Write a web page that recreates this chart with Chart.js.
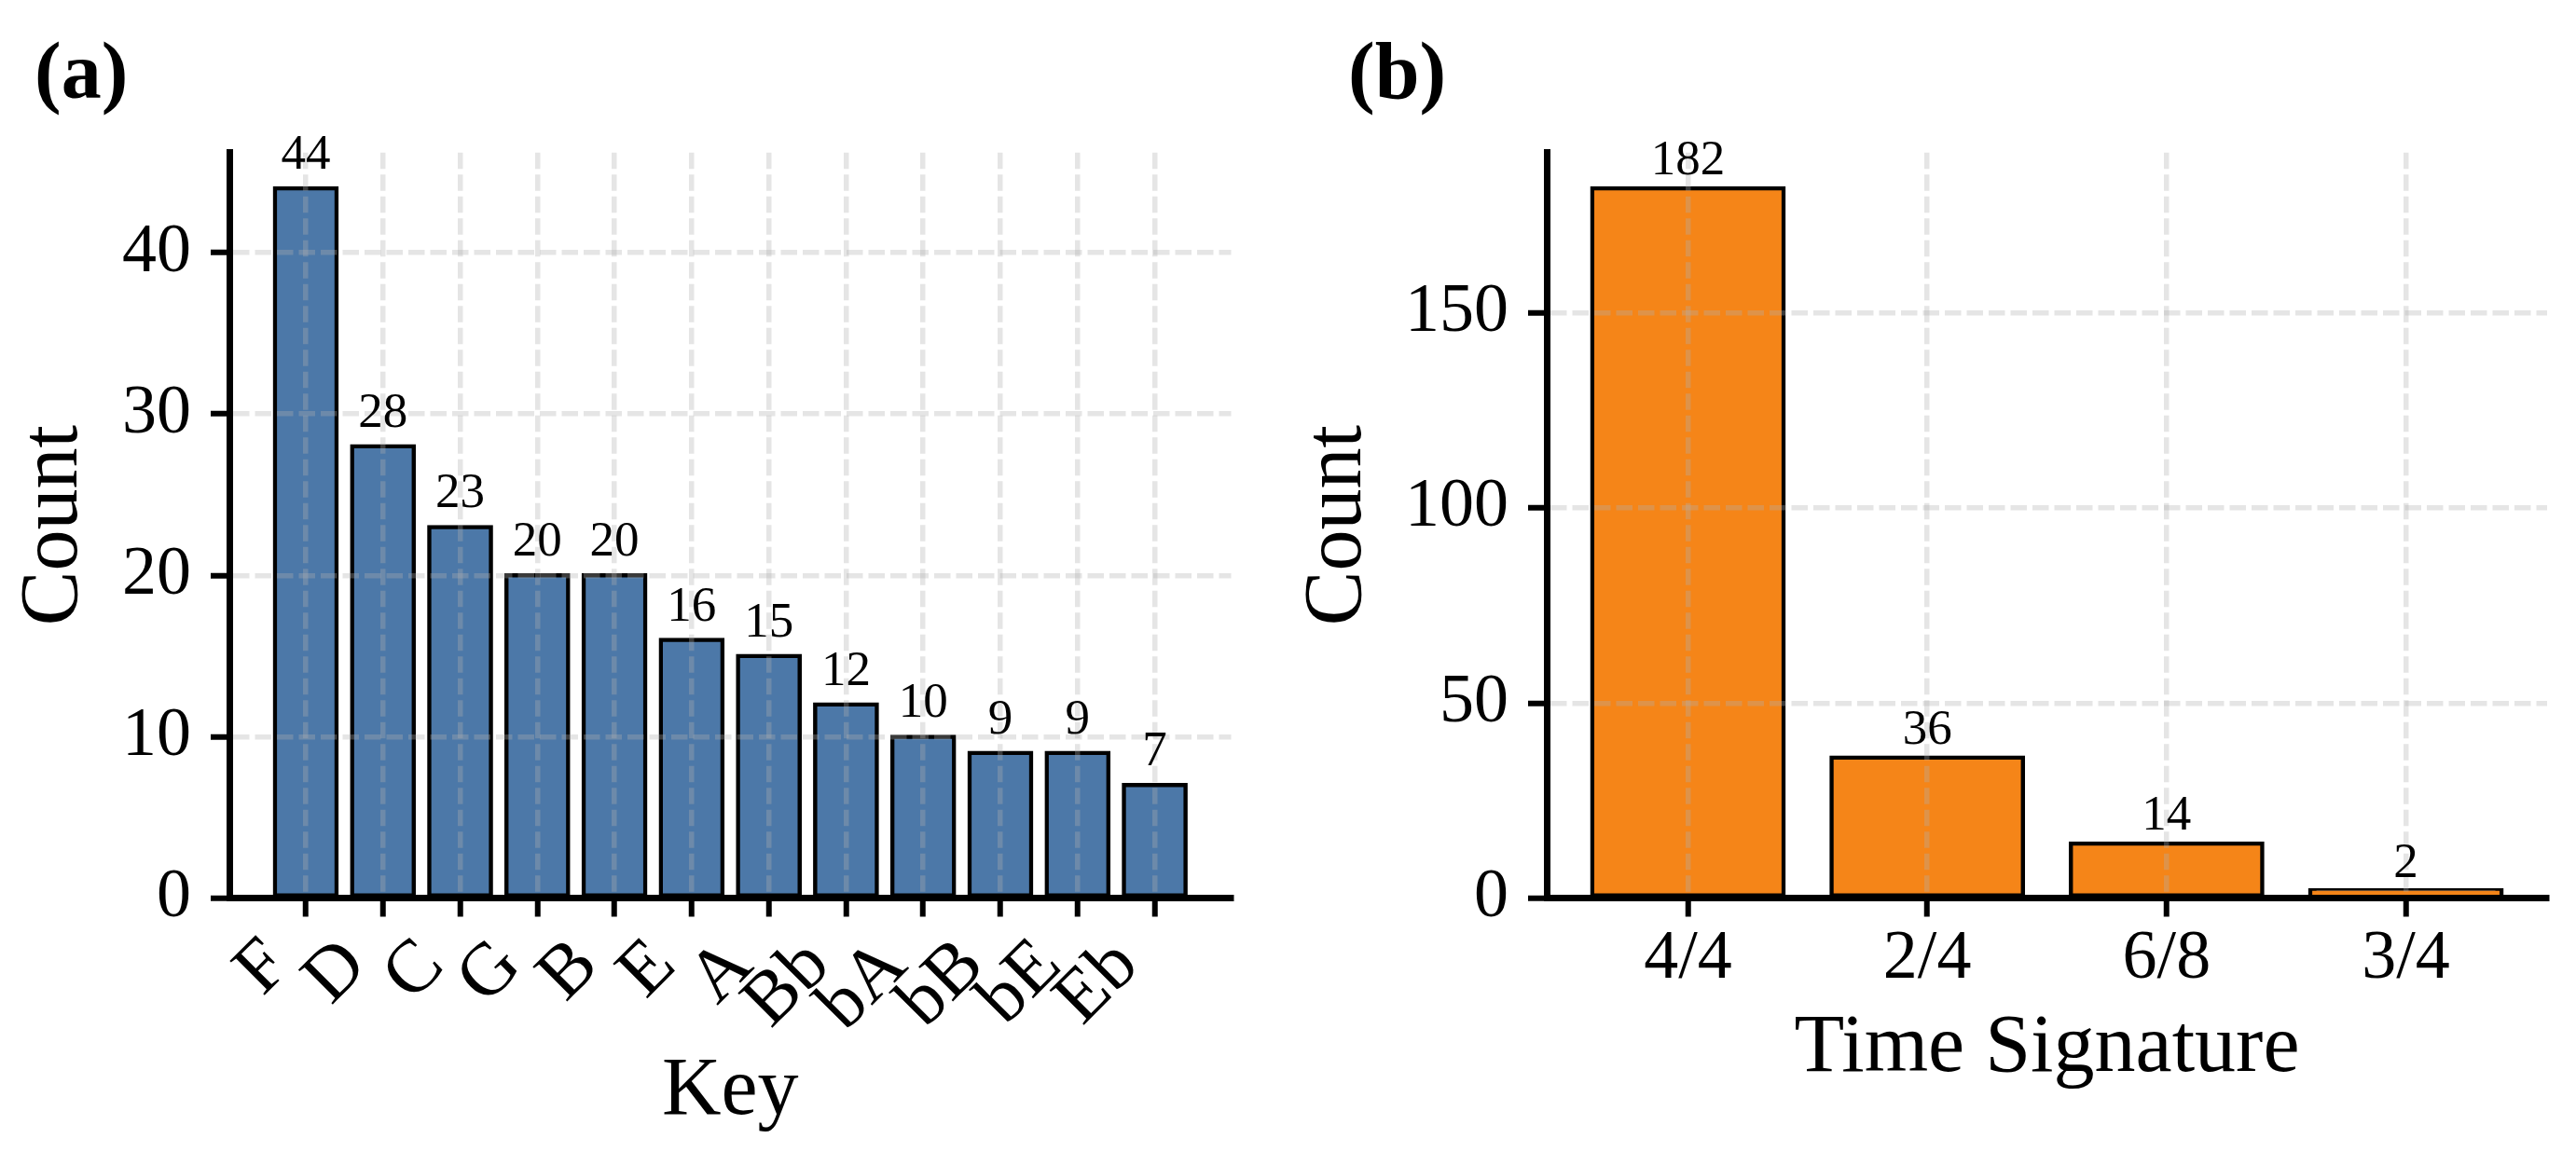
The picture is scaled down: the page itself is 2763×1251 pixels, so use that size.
<!DOCTYPE html>
<html>
<head>
<meta charset="utf-8">
<script src="https://cdn.jsdelivr.net/npm/chart.js@4.4.1/dist/chart.umd.min.js"></script>
<style>
html, body { margin: 0; padding: 0; background: #ffffff; width: 2763px; height: 1251px; overflow: hidden; }
canvas { position: absolute; top: 0; }
#ca { left: 0; width: 1380px; height: 1251px; }
#cb { left: 1380px; width: 1383px; height: 1251px; }
</style>
</head>
<body>
<canvas id="ca" width="1380" height="1251"></canvas>
<canvas id="cb" width="1383" height="1251"></canvas>
<script>
// ---- data ----
const keyLabels = ['F', 'D', 'C', 'G', 'B', 'E', 'A', 'Bb', 'bA', 'bB', 'bE', 'Eb'];
const keyCounts = [44, 28, 23, 20, 20, 16, 15, 12, 10, 9, 9, 7];
const timeLabels = ['4/4', '2/4', '6/8', '3/4'];
const timeCounts = [182, 36, 14, 2];
const keyYTicksStep = 10;
const timeYTicksStep = 50;

// ---- style ----
const FONT = "'Liberation Serif', 'Times New Roman', Times, serif";
const GRID_COLOR = 'rgba(176,176,176,0.33)';
const BLUE = '#4c78a8';
const ORANGE = '#f58518';

const barLabels = {
  id: 'barLabels',
  afterDraw(chart, args, opts) {
    const ctx = chart.ctx;
    const meta = chart.getDatasetMeta(0);
    const ds = chart.data.datasets[0];
    ctx.save();
    ctx.font = opts.size + 'px ' + FONT;
    ctx.fillStyle = '#000';
    ctx.textAlign = 'center';
    ctx.textBaseline = 'alphabetic';
    meta.data.forEach((bar, i) => {
      ctx.fillText(String(ds.data[i].y), bar.x, bar.y - opts.gap);
    });
    ctx.restore();
  }
};

const panelLabel = {
  id: 'panelLabel',
  afterDraw(chart, args, opts) {
    const ctx = chart.ctx;
    ctx.save();
    ctx.font = 'bold ' + opts.size + 'px ' + FONT;
    ctx.fillStyle = '#000';
    ctx.textAlign = 'left';
    ctx.textBaseline = 'alphabetic';
    ctx.fillText(opts.text, opts.x, opts.y);
    ctx.restore();
  }
};

function gridOpts() {
  return { color: GRID_COLOR, lineWidth: 5.5, offset: false, z: 1, drawTicks: true,
           tickLength: 20, tickWidth: 6, tickColor: '#000' };
}
function borderOpts() {
  return { display: true, color: '#000', width: 7, dash: [17.5, 6], z: 2 };
}

function makeChart(canvasId, cfg) {
  return new Chart(document.getElementById(canvasId), {
    type: 'bar',
    data: {
      datasets: [{
        data: cfg.labels.map((_, i) => ({ x: i, y: cfg.values[i] })),
        backgroundColor: cfg.color,
        borderColor: '#000',
        borderWidth: 4.5,
        borderSkipped: false,
        inflateAmount: 2.25,
        barPercentage: 0.8,
        categoryPercentage: 1
      }]
    },
    options: {
      responsive: false,
      animation: false,
      devicePixelRatio: 1,
      layout: { padding: { left: 0, right: cfg.padRight, top: 163.8, bottom: 0 } },
      plugins: {
        legend: { display: false },
        tooltip: { enabled: false },
        title: { display: false },
        barLabels: { size: 53, gap: cfg.labelGap },
        panelLabel: { text: cfg.panel, x: cfg.panelX, y: 105, size: 86 }
      },
      scales: {
        x: {
          type: 'linear',
          min: cfg.xMin,
          max: cfg.xMax,
          offset: false,
          afterBuildTicks: s => { s.ticks = cfg.labels.map((_, i) => ({ value: i })); },
          afterFit: s => { s.height = 287.5; s.paddingLeft = 0; s.paddingRight = 0; },
          grid: gridOpts(),
          border: borderOpts(),
          ticks: {
            autoSkip: false,
            minRotation: cfg.rot,
            maxRotation: cfg.rot,
            labelOffset: cfg.labelOffset,
            padding: cfg.xPad,
            color: '#000',
            font: { family: FONT, size: cfg.xFont },
            callback: v => cfg.labels[v]
          },
          title: {
            display: true, text: cfg.xTitle, color: '#000',
            font: { family: FONT, size: 88 },
            padding: { top: 0, bottom: cfg.xTitlePad }
          }
        },
        y: {
          min: 0,
          max: cfg.yMax,
          afterFit: s => { s.width = cfg.yWidth; s.paddingTop = 0; s.paddingBottom = 0; },
          grid: gridOpts(),
          border: borderOpts(),
          ticks: {
            stepSize: cfg.yStep,
            includeBounds: false,
            padding: 21,
            color: '#000',
            font: { family: FONT, size: 74 },
            callback: v => String(v)
          },
          title: {
            display: true, text: 'Count', color: '#000',
            font: { family: FONT, size: 88 },
            padding: { top: cfg.yTitlePad, bottom: 0 }
          }
        }
      }
    },
    plugins: [barLabels, panelLabel]
  });
}

makeChart('ca', {
  labels: keyLabels, values: keyCounts, color: BLUE,
  padRight: 59.5, labelGap: 21, panel: '(a)', panelX: 37,
  xMin: -0.99, xMax: 11.99, rot: 45, labelOffset: -29.5, xPad: 6, xFont: 80,
  xTitle: 'Key', xTitlePad: 26,
  yMax: Math.max(...keyCounts) * 1.05, yStep: keyYTicksStep, yWidth: 246, yTitlePad: 6.5
});

makeChart('cb', {
  labels: timeLabels, values: timeCounts, color: ORANGE,
  padRight: 31, labelGap: 14.5, panel: '(b)', panelX: 66,
  xMin: -0.59, xMax: 3.59, rot: 0, labelOffset: 0, xPad: 2, xFont: 74,
  xTitle: 'Time Signature', xTitlePad: 72,
  yMax: Math.max(...timeCounts) * 1.05, yStep: timeYTicksStep, yWidth: 279, yTitlePad: 3
});
</script>
</body>
</html>
